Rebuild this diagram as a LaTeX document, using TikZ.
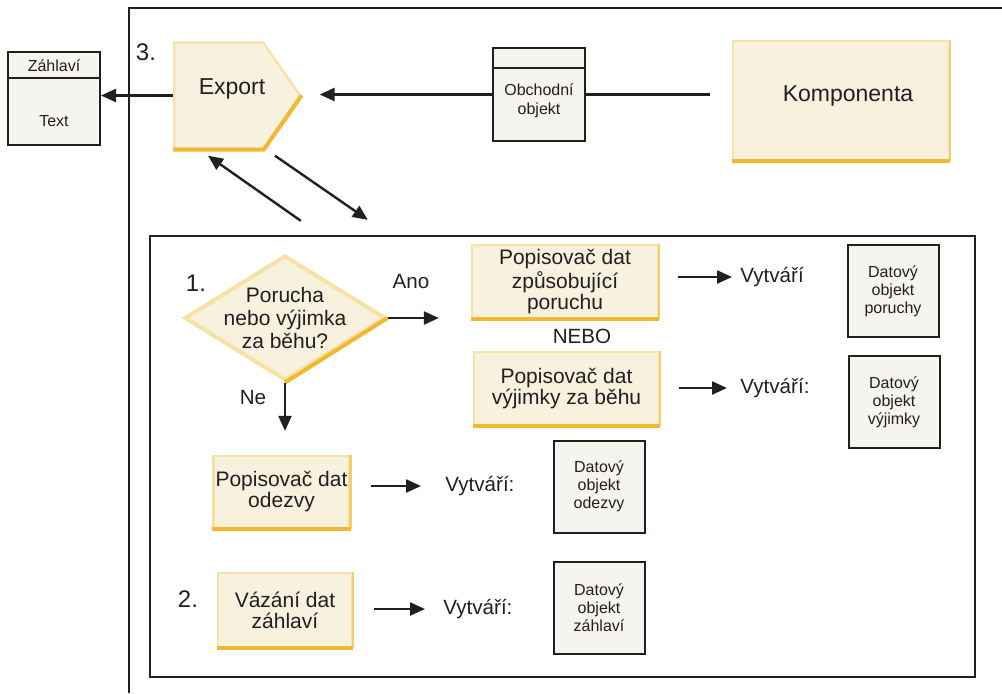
\documentclass[tikz,border=0pt]{standalone}
\usepackage{fontspec}
\setmainfont{Liberation Sans}
\usetikzlibrary{arrows.meta,positioning,shapes.symbols,shapes.geometric}
\definecolor{creami}{RGB}{247,241,222}
\definecolor{yellowi}{RGB}{246,226,164}
\definecolor{orangei}{RGB}{242,184,50}
\definecolor{orangeii}{RGB}{246,206,110}
\definecolor{grayi}{RGB}{246,244,238}
\definecolor{darki}{RGB}{35,31,32}
\tikzset{
      myyblock/.style 2 args={
        fill=creami,
        draw=yellowi,
        line width=1.2pt,
        align=center,
        text=darki,
        font=\fontsize{10.5}{10.5}\selectfont,
        minimum width=#1,
        minimum height=#2,
        inner sep=1pt,
        append after command={(\tikzlastnode.south east) edge[draw=orangeii,line width=1.2pt] (\tikzlastnode.north east)
                              (\tikzlastnode.south west) edge[draw=orangei,line width=2pt] (\tikzlastnode.south east)}
      },
      mydblock/.style={
        draw=darki,
        fill=grayi,
        line width=1pt,
        align=center,
        text=darki,
        font=\fontsize{8}{9}\selectfont,
        minimum width=45.5pt,
        minimum height=46pt,
        inner sep=1pt
      },
      myhblock/.style={
        draw=darki,
        fill=grayi,
        line width=1pt,
        minimum width=46pt,
        minimum height=46.5pt,
        path picture={\draw[darki,line width=1pt]
          ([yshift=-#1]path picture bounding box.north west) --
          ([yshift=-#1]path picture bounding box.north east);}
      },
      mytext/.style={
        text=darki,
        inner sep=0pt,
        font=\fontsize{10.3}{11}\selectfont
      },
      mysmall/.style={
        text=darki,
        inner sep=0pt,
        align=center,
        font=\fontsize{8}{9.5}\selectfont
      },
      mynum/.style={
        text=darki,
        inner sep=0pt,
        font=\fontsize{12}{14}\selectfont
      },
      myarrow/.style={
        draw=darki,
        line width=1.2pt,
        -{Triangle[length=7.5pt,width=6.5pt]}
      },
    }

\begin{document}
\begin{tikzpicture}[x=0.5pt,y=-0.5pt]
          \useasboundingbox (0,0) rectangle (1002,693);

          % frames
          \draw[darki,line width=1pt] (129,693) -- (129,8) -- (1002,8);
          \node[draw=darki,line width=1.2pt,minimum width=412.5pt,minimum height=220.5pt]
            (handling) at (562.5,456.5) {};

          % top row
          \node[myhblock=13pt]
            (zahlavi) at (54,98.5) {};
          \node[mysmall] (zahlavititle) at (54,66) {Záhlaví};
          \node[mysmall] (zahlavitext) at (54,121) {Text};

          \node[signal,signal to=east,signal from=nowhere,signal pointer angle=110,
                fill=creami,draw=yellowi,line width=1.2pt,
                minimum width=63pt,minimum height=53pt,
                anchor=west]
            (export) at (173,95.5) {};
          \draw[orangei,line width=2pt] (export.south west) -- (export.south east) -- (export.east);
          \node[mytext,font=\fontsize{11.5}{13}\selectfont] (exporttext) at (232,89) {Export};
          \node[mynum] (num3) at (146,52) {3.};

          \node[myhblock=10pt]
            (obchodni) at (539,94.5) {};
          \node[mysmall] (obchodnitext) at (539,100.5) {Obchodní\\objekt};

          \node[myyblock={108pt}{59.5pt},font=\fontsize{11.5}{13}\selectfont,text depth=7.3pt]
            (komponenta) at (841,100.5) {\hspace*{7pt}Komponenta};

          \draw[myarrow] (export.west) -- (zahlavi.east |- export.west);
          \draw[darki,line width=1.2pt,shorten <=11pt] (komponenta.west |- obchodni.east) -- (obchodni.east);
          \draw[myarrow,shorten >=9pt] (obchodni.west) -- (export.east |- obchodni.west);

          \coordinate (retin) at ([shift={(152,-14)}]handling.north west);
          \coordinate (retout) at ([shift={(219,-15)}]handling.north west);
          \draw[myarrow] (retin) -- ([shift={(35,6)}]export.south west);
          \draw[myarrow] ([shift={(102,6)}]export.south west) -- (retout);

          % decision
          \node[diamond,aspect=1.6,inner sep=-3pt,
                fill=creami,draw=yellowi,line width=2pt,
                minimum width=100.5pt,minimum height=62.5pt,
                align=center,text=darki,font=\fontsize{10.5}{11.5}\selectfont]
            (fault) at (285,318) {Porucha\\nebo výjimka\\za běhu?};
          \draw[orangei,line width=2pt] (fault.south) -- (fault.east);
          \node[mynum] (num1) at (196,283) {1.};

          \node[myyblock={93pt}{36.5pt}]
            (poruchadesc) at (565,281.5) {Popisovač dat\\způsobující\\poruchu};
          \node[mytext] (nebo) at (582,336) {NEBO};
          \node[myyblock={92.5pt}{36.5pt}]
            (vyjimkadesc) at (566.5,388.5) {Popisovač dat\\výjimky za běhu};
          \node[myyblock={66.5pt}{36pt}]
            (odezvadesc) at (281.5,492) {Popisovač dat\\odezvy};
          \node[myyblock={67pt}{37pt}]
            (zahlavidesc) at (285,610) {Vázání dat\\záhlaví};
          \node[mynum] (num2) at (188,599) {2.};

          \draw[myarrow,shorten >=16pt] (fault.east) -- (poruchadesc.west |- fault.east);
          \node[mytext] (ano) at (411,282) {Ano};
          \draw[myarrow,shorten >=12pt] (fault.south) -- (fault.south |- odezvadesc.north);
          \node[mytext] (ne) at (253,398) {Ne};

          % results
          \node[mytext,anchor=west] (creates1) at (740,277) {Vytváří};
          \node[mytext,anchor=west] (creates2) at (740,388) {Vytváří:};
          \node[mytext,anchor=west] (creates3) at (445,486) {Vytváří:};
          \node[mytext,anchor=west] (creates4) at (443,609) {Vytváří:};

          \node[mydblock] (dporuchy) at (893,291) {Datový\\objekt\\poruchy};
          \node[mydblock] (dvyjimky) at (894,402) {Datový\\objekt\\výjimky};
          \node[mydblock] (dodezvy) at (599,486.5) {Datový\\objekt\\odezvy};
          \node[mydblock] (dzahlavi) at (599,608) {Datový\\objekt\\záhlaví};

          \draw[myarrow,shorten <=9.5pt,shorten >=4pt] (poruchadesc.east |- creates1.west) -- (creates1.west);
          \draw[myarrow,shorten <=9.5pt,shorten >=6.5pt] (vyjimkadesc.east |- creates2.west) -- (creates2.west);
          \draw[myarrow,shorten <=10pt,shorten >=12pt] (odezvadesc.east |- creates3.west) -- (creates3.west);
          \draw[myarrow,shorten <=10.5pt,shorten >=9pt] (zahlavidesc.east |- creates4.west) -- (creates4.west);
        \end{tikzpicture}
\end{document}
